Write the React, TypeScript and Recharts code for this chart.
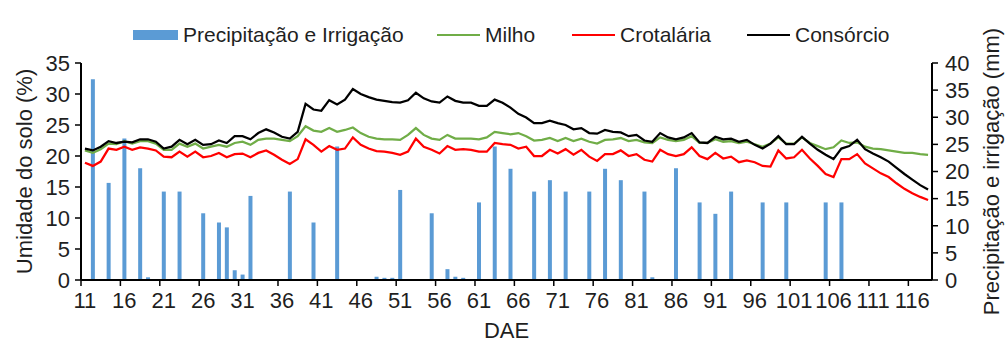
import React from 'react';
import { ComposedChart, Bar, Line, XAxis, YAxis, Legend } from 'recharts';

// ---------- DATA ----------
const days = [
  11, 12, 13, 14, 15, 16, 17, 18, 19, 20,
  21, 22, 23, 24, 25, 26, 27, 28, 29, 30,
  31, 32, 33, 34, 35, 36, 37, 38, 39, 40,
  41, 42, 43, 44, 45, 46, 47, 48, 49, 50,
  51, 52, 53, 54, 55, 56, 57, 58, 59, 60,
  61, 62, 63, 64, 65, 66, 67, 68, 69, 70,
  71, 72, 73, 74, 75, 76, 77, 78, 79, 80,
  81, 82, 83, 84, 85, 86, 87, 88, 89, 90,
  91, 92, 93, 94, 95, 96, 97, 98, 99, 100,
  101, 102, 103, 104, 105, 106, 107, 108, 109, 110,
  111, 112, 113, 114, 115, 116, 117, 118,
];

const milho = [
  20.9, 20.5, 21.1, 22.0, 21.9, 22.4, 22.0, 22.4, 22.4, 22.0,
  21.0, 21.0, 22.0, 21.5, 22.0, 21.2, 21.5, 21.8, 21.5, 22.1,
  22.3, 21.8, 22.6, 22.8, 22.8, 22.6, 22.4, 23.2, 24.8, 24.1,
  23.9, 24.5, 23.9, 24.2, 24.6, 23.7, 23.1, 22.8, 22.7, 22.7,
  22.6, 23.4, 24.5, 23.4, 22.8, 22.6, 23.4, 22.8, 22.8, 22.8,
  22.7, 23.0, 23.9, 23.7, 23.5, 23.7, 23.2, 22.5, 22.6, 22.9,
  22.4, 22.9, 22.4, 22.8, 22.3, 22.0, 22.6, 22.7, 22.9, 22.4,
  22.6, 22.2, 22.1, 23.0, 22.6, 22.4, 22.6, 23.2, 22.1, 22.1,
  22.7, 22.3, 22.4, 22.1, 22.3, 21.9, 21.5, 22.0, 23.0, 22.0,
  22.0, 23.0, 22.1, 21.6, 21.1, 21.4, 22.5, 22.1, 22.2, 21.5,
  21.2, 21.1, 20.9, 20.7, 20.5, 20.5, 20.3, 20.2,
];

const crotalaria = [
  18.9, 18.4, 19.1, 21.2, 21.0, 21.5, 21.0, 21.4, 21.2, 20.9,
  19.9, 19.8, 20.7, 19.9, 20.7, 19.8, 20.0, 20.5, 19.8, 20.3,
  20.4, 19.8, 20.5, 20.9, 20.2, 19.4, 18.7, 19.5, 22.7, 21.8,
  20.7, 21.6, 21.0, 21.2, 23.0, 21.8, 21.2, 20.8, 20.7, 20.5,
  20.2, 20.7, 22.8, 21.5, 21.0, 20.4, 21.6, 21.0, 21.1, 21.0,
  20.7, 20.7, 22.1, 21.9, 21.8, 21.2, 21.5, 20.0, 20.0, 21.0,
  20.4, 21.1, 20.2, 21.0, 19.9, 19.2, 20.3, 20.3, 20.9, 20.0,
  20.3, 19.4, 19.1, 21.0, 20.3, 20.0, 20.3, 21.4, 20.0, 19.5,
  20.5, 19.6, 19.9, 19.0, 19.3, 19.0, 18.4, 18.3, 20.9, 19.6,
  19.8, 21.0, 19.6, 18.4, 17.1, 16.6, 19.5, 19.5, 20.3, 18.8,
  18.0, 17.2, 16.6, 15.6, 14.7, 14.0, 13.4, 12.9,
];

const consorcio = [
  21.2, 20.9, 21.5, 22.4, 22.1, 22.3, 22.2, 22.7, 22.7, 22.3,
  21.2, 21.5, 22.6, 21.9, 22.6, 21.8, 21.9, 22.5, 22.1, 23.2,
  23.2, 22.7, 23.7, 24.3, 23.8, 23.1, 22.8, 23.9, 28.4, 27.5,
  27.3, 29.0, 28.3, 29.1, 30.8, 30.0, 29.5, 29.1, 28.9, 28.7,
  28.6, 29.0, 30.2, 29.3, 28.8, 28.6, 29.6, 28.9, 28.6, 28.6,
  28.1, 28.1, 29.1, 28.6, 27.8, 26.8, 26.2, 25.3, 25.3, 25.7,
  25.3, 25.0, 24.3, 24.5, 23.7, 23.6, 24.2, 23.9, 23.8, 23.2,
  23.4, 22.5, 22.3, 23.7, 23.0, 22.7, 23.0, 23.7, 22.2, 22.1,
  23.1, 22.7, 22.8, 22.3, 22.6, 21.8, 21.2, 22.0, 23.2, 21.9,
  21.9, 23.1, 22.0, 21.0, 20.2, 19.5, 21.2, 21.6, 22.6, 21.1,
  20.4, 19.8, 19.1, 18.1, 17.1, 16.2, 15.3, 14.6,
];

const precipDays = [
  12, 14, 16, 18, 19, 21, 23, 26, 28, 29, 30, 31, 32, 37, 40, 43,
  48, 49, 50, 51, 55, 57, 58, 59, 61, 63, 65, 68, 70, 72, 75, 77,
  79, 82, 83, 86, 89, 91, 93, 97, 100, 105, 107,
];
const precipValues = [
  37.0, 17.9, 26.1, 20.6, 0.5, 16.3, 16.3, 12.3, 10.6, 9.7, 1.8, 1.0, 15.5, 16.3, 10.6, 24.6,
  0.6, 0.4, 0.4, 16.6, 12.3, 2.0, 0.6, 0.4, 14.3, 24.6, 20.5, 16.3, 18.4, 16.3, 16.3, 20.5,
  18.4, 16.3, 0.5, 20.6, 14.3, 12.2, 16.3, 14.3, 14.3, 14.3, 14.3,
];

const leftTicks = [0, 5, 10, 15, 20, 25, 30, 35];
const rightTicks = [0, 5, 10, 15, 20, 25, 30, 35, 40];

const seriesNames = ['Precipitação e Irrigação', 'Milho', 'Crotalária', 'Consórcio'];
const leftTitle = 'Umidade do solo (%)';
const rightTitle = 'Precipitação e irrigação (mm)';
const xTitle = 'DAE';

// ---------- TABLE ----------
const precipByDay: Record<number, number> = {};
precipDays.forEach((d, i) => {
  precipByDay[d] = precipValues[i];
});
const data = days.map((d, i) => ({
  day: d,
  precip: precipByDay[d] !== undefined ? precipByDay[d] : null,
  milho: milho[i],
  crotalaria: crotalaria[i],
  consorcio: consorcio[i],
}));

// ---------- STYLE ----------
const FONT = '"Liberation Sans", Arial, Helvetica, sans-serif';
const TEXT = '#1f1f1f';
const BLUE = '#5B9BD5';
const GREEN = '#70AD47';
const RED = '#FF0000';
const BLACK = '#000000';
const W = 1005;
const H = 347;
const PLOT_LEFT = 81;
const PLOT_RIGHT = 932;
const PLOT_TOP = 63;
const PLOT_BOTTOM = 280;
const PLOT_W = PLOT_RIGHT - PLOT_LEFT;
const PLOT_CY = (PLOT_TOP + PLOT_BOTTOM) / 2;
const LEGEND_X = [133, 437, 572, 747];
const legendColors = [BLUE, GREEN, RED, BLACK];

function XTick(props: any) {
  const { x, y, payload } = props;
  const half = PLOT_W / days.length / 2;
  return (
    <g>
      <line x1={x - half} x2={x - half} y1={PLOT_BOTTOM} y2={PLOT_BOTTOM + 6} stroke="#000" strokeWidth={1.5} />
      <text x={x} y={y} dy={16} textAnchor="middle" fontSize={22} fontFamily={FONT} fill={TEXT}>
        {payload.value}
      </text>
    </g>
  );
}

function LegendContent() {
  return (
    <div style={{ position: 'relative', width: W, height: 24, fontFamily: FONT, fontSize: 21, color: TEXT }}>
      {seriesNames.map((name, i) => (
        <div
          key={name}
          style={{
            position: 'absolute',
            left: LEGEND_X[i],
            top: 0,
            height: 24,
            display: 'flex',
            alignItems: 'center',
            whiteSpace: 'nowrap',
          }}
        >
          {i === 0 ? (
            <span style={{ display: 'inline-block', width: 45, height: 10, background: legendColors[i] }} />
          ) : (
            <span style={{ display: 'inline-block', width: 43, height: 2.5, background: legendColors[i] }} />
          )}
          <span style={{ marginLeft: 5, lineHeight: '24px' }}>{name}</span>
        </div>
      ))}
    </div>
  );
}

const axisTick = { fontSize: 22, fill: TEXT, fontFamily: FONT };

export default function App() {
  return (
    <div style={{ position: 'absolute', left: 0, top: 0, width: W, height: H, background: '#fff' }}>
      <ComposedChart
        width={W}
        height={H}
        data={data}
        margin={{ top: PLOT_TOP, right: 0, bottom: 0, left: 0 }}
        barCategoryGap={0}
      >
        <XAxis
          dataKey="day"
          type="category"
          interval={4}
          height={H - PLOT_BOTTOM}
          axisLine={{ stroke: '#000', strokeWidth: 2 }}
          tickLine={false}
          tickSize={6}
          tickMargin={6}
          tick={<XTick />}
          label={{
            content: () => (
              <text x={(PLOT_LEFT + PLOT_RIGHT) / 2} y={330} textAnchor="middle" dominantBaseline="central" fontSize={22} fontFamily={FONT} fill={TEXT}>
                {xTitle}
              </text>
            ),
          }}
        />
        <YAxis
          yAxisId="left"
          orientation="left"
          width={PLOT_LEFT}
          domain={[0, 35]}
          ticks={leftTicks}
          interval={0}
          axisLine={{ stroke: '#000', strokeWidth: 2 }}
          tickLine={{ stroke: '#000', strokeWidth: 1.5 }}
          tickSize={6}
          tickMargin={5}
          tick={axisTick}
          label={{
            content: () => (
              <text transform={`translate(24, ${PLOT_CY}) rotate(-90)`} textAnchor="middle" dominantBaseline="central" fontSize={22} fontFamily={FONT} fill={TEXT}>
                {leftTitle}
              </text>
            ),
          }}
        />
        <YAxis
          yAxisId="right"
          orientation="right"
          width={W - PLOT_RIGHT}
          domain={[0, 40]}
          ticks={rightTicks}
          interval={0}
          axisLine={{ stroke: '#000', strokeWidth: 2 }}
          tickLine={{ stroke: '#000', strokeWidth: 1.5 }}
          tickSize={6}
          tickMargin={7}
          tick={axisTick}
          label={{
            content: () => (
              <text transform={`translate(991, ${PLOT_CY}) rotate(-90)`} textAnchor="middle" dominantBaseline="central" fontSize={22} fontFamily={FONT} fill={TEXT}>
                {rightTitle}
              </text>
            ),
          }}
        />
        <Legend
          layout="horizontal"
          verticalAlign="middle"
          align="center"
          wrapperStyle={{ left: 0, top: 23, width: W, height: 24 }}
          content={<LegendContent />}
        />
        <Bar yAxisId="right" dataKey="precip" name={seriesNames[0]} fill={BLUE} barSize={4} isAnimationActive={false} />
        <Line yAxisId="left" type="linear" dataKey="milho" name={seriesNames[1]} stroke={GREEN} strokeWidth={2.25} dot={false} activeDot={false} isAnimationActive={false} />
        <Line yAxisId="left" type="linear" dataKey="crotalaria" name={seriesNames[2]} stroke={RED} strokeWidth={2.25} dot={false} activeDot={false} isAnimationActive={false} />
        <Line yAxisId="left" type="linear" dataKey="consorcio" name={seriesNames[3]} stroke={BLACK} strokeWidth={2.25} dot={false} activeDot={false} isAnimationActive={false} />
      </ComposedChart>
    </div>
  );
}
